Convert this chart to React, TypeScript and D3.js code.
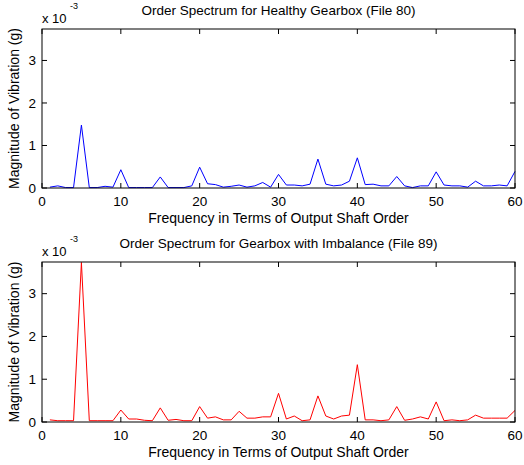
import React from 'react';
import * as d3 from 'd3';

// shaft orders 1..60
const orders = d3.range(1, 61);

// magnitudes in units of 1e-3 g
const healthy = [
  0.02, 0.05, 0.01, 0.01, 1.48, 0.01, 0.01, 0.04, 0.02, 0.43,
  0.01, 0.01, 0.01, 0.01, 0.26, 0.01, 0.01, 0.01, 0.05, 0.49,
  0.10, 0.08, 0.02, 0.04, 0.07, 0.02, 0.05, 0.13, 0.02, 0.32,
  0.07, 0.07, 0.05, 0.09, 0.68, 0.09, 0.05, 0.07, 0.16, 0.71,
  0.08, 0.09, 0.05, 0.05, 0.27, 0.05, 0.01, 0.05, 0.05, 0.38,
  0.07, 0.05, 0.05, 0.02, 0.16, 0.05, 0.05, 0.07, 0.05, 0.39,
];

const imbalance = [
  0.05, 0.03, 0.03, 0.03, 3.73, 0.03, 0.03, 0.03, 0.03, 0.28,
  0.07, 0.07, 0.04, 0.03, 0.33, 0.04, 0.06, 0.03, 0.03, 0.36,
  0.09, 0.12, 0.05, 0.05, 0.25, 0.09, 0.09, 0.12, 0.12, 0.67,
  0.07, 0.14, 0.03, 0.05, 0.61, 0.14, 0.07, 0.14, 0.16, 1.34,
  0.05, 0.05, 0.03, 0.05, 0.36, 0.04, 0.07, 0.12, 0.07, 0.47,
  0.03, 0.05, 0.03, 0.05, 0.16, 0.09, 0.09, 0.09, 0.09, 0.27,
];

const xTicks = [0, 10, 20, 30, 40, 50, 60];
const yTicks = [0, 1, 2, 3];

const font = 'Liberation Sans, Arial, sans-serif';
const left = 42;
const right = 515;
const tickLen = 5;

const Panel = (props: { top: number; bottom: number; data: number[]; color: string; title: string }) => {
  const { top, bottom, data, color, title } = props;
  const x = d3.scaleLinear().domain([0, 60]).range([left, right]);
  const y = d3.scaleLinear().domain([0, 3.74]).range([bottom, top]);
  const line = d3.line<number>()
    .x((d, i) => x(orders[i]))
    .y(d => y(d));
  const mid = (left + right) / 2;

  return (
    <g fontFamily={font} fill="#000">
      <text x={mid} y={top - 14} textAnchor="middle" fontSize={13.5}>{title}</text>
      <text x={left} y={top - 6} fontSize={13}>x 10</text>
      <text x={left + 28} y={top - 20} fontSize={9}>-3</text>

      <path d={line(data) || ''} fill="none" stroke={color} strokeWidth={1} />

      <rect x={left} y={top} width={right - left} height={bottom - top} fill="none" stroke="#000" strokeWidth={1} />

      {xTicks.map(t => (
        <g key={'x' + t}>
          <line x1={x(t)} x2={x(t)} y1={bottom} y2={bottom - tickLen} stroke="#000" />
          <line x1={x(t)} x2={x(t)} y1={top} y2={top + tickLen} stroke="#000" />
          <text x={x(t)} y={bottom + 18} textAnchor="middle" fontSize={13.5}>{t}</text>
        </g>
      ))}
      {yTicks.map(t => (
        <g key={'y' + t}>
          <line x1={left} x2={left + tickLen} y1={y(t)} y2={y(t)} stroke="#000" />
          <line x1={right} x2={right - tickLen} y1={y(t)} y2={y(t)} stroke="#000" />
          <text x={left - 6} y={y(t)} dy="0.35em" textAnchor="end" fontSize={13.5}>{t}</text>
        </g>
      ))}

      <text x={mid} y={bottom + 35} textAnchor="middle" fontSize={14}>Frequency in Terms of Output Shaft Order</text>
      <text transform={`translate(19,${(top + bottom) / 2}) rotate(-90)`} textAnchor="middle" fontSize={14}>
        Magnitude of Vibration (g)
      </text>
    </g>
  );
};

export default function App() {
  return (
    <svg width={524} height={465} style={{ position: 'absolute', left: 0, top: 0, background: '#fff' }}>
      <rect width={524} height={465} fill="#fff" />
      <Panel top={29} bottom={188} data={healthy} color="#0000ff" title="Order Spectrum for Healthy Gearbox (File 80)" />
      <Panel top={262} bottom={422} data={imbalance} color="#ff0000" title="Order Spectrum for Gearbox with Imbalance (File 89)" />
    </svg>
  );
}
